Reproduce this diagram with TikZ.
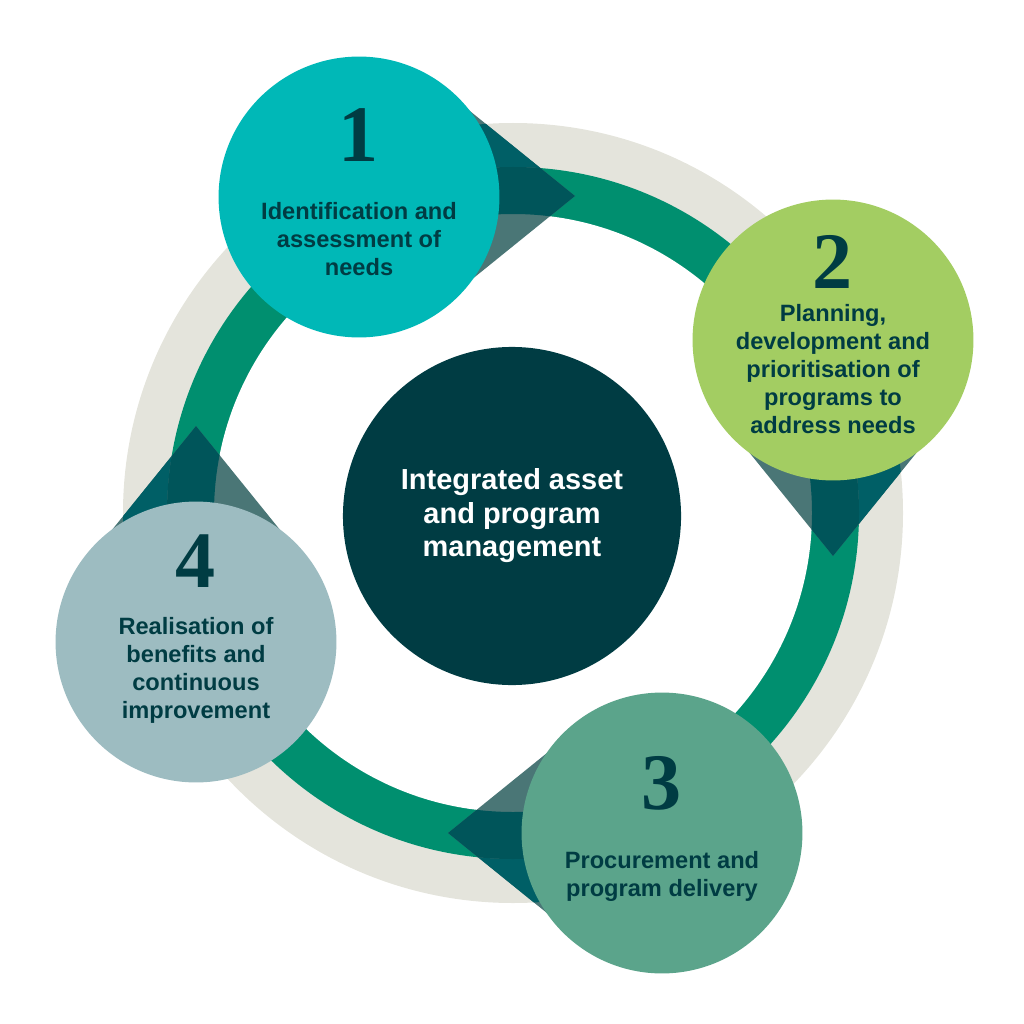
\documentclass[tikz,border=0pt]{standalone}
\usepackage{fontspec}
\setmainfont{Liberation Sans}
\newfontfamily\numfont{Liberation Serif}
\usepackage{tikz}
\usetikzlibrary{calc}

\definecolor{darkteal}{HTML}{003C43}
\definecolor{ringgreen}{HTML}{008F6F}
\definecolor{ringgray}{HTML}{E4E4DC}
\definecolor{stageone}{HTML}{00B8B7}
\definecolor{stagetwo}{HTML}{A3CD62}
\definecolor{stagethree}{HTML}{5BA48B}
\definecolor{stagefour}{HTML}{9DBCC1}
\definecolor{tipwhite}{HTML}{4A7676}
\definecolor{tipgray}{HTML}{005F66}
\definecolor{tipgreen}{HTML}{00555A}

\tikzstyle{Stage} = [circle, minimum size=7.02cm, inner sep=0pt]
\tikzstyle{Hub} = [circle, fill=darkteal, minimum size=8.45cm, inner sep=0pt,
align=center, text=white, font=\bfseries\fontsize{20.6}{23.8}\selectfont]
\tikzstyle{Number} = [inner sep=0pt, text=darkteal,
font=\numfont\bfseries\fontsize{57}{57}\selectfont]
\tikzstyle{Label} = [inner sep=0pt, align=center, text=darkteal,
font=\bfseries\fontsize{16.8}{19.9}\selectfont]

\begin{document}
\begin{tikzpicture}[x=0.025cm, y=-0.025cm]
    \useasboundingbox (0,0) rectangle (1024,1024);
    \coordinate (O) at (513,513);

    % ring
    \fill[ringgray] (O) circle (390);
    \fill[ringgreen] (O) circle (346);
    \fill[white] (O) circle (299);

    % arrow tips on the ring
    \foreach \x/\y/\a in {575/196/0, 833/556/-90, 448/833/180, 196/426/90} {
        \begin{scope}
            \clip[shift={(\x,\y)}, rotate=\a] (0,0) -- (-115,-93) -- (-115,93) -- cycle;
            \fill[tipwhite] (0,0) rectangle (1024,1024);
            \fill[tipgray, even odd rule] (O) circle (390) (O) circle (346);
            \fill[tipgreen, even odd rule] (O) circle (346) (O) circle (299);
        \end{scope}
    }

    \node[Hub] (0) at (512,516) {Integrated asset\\and program\\management};
    \node[Stage, fill=stageone] (1) at (359,197) {};
    \node[Stage, fill=stagetwo] (2) at (833,340) {};
    \node[Stage, fill=stagethree] (3) at (662,833) {};
    \node[Stage, fill=stagefour] (4) at (196,642) {};

    \node[Number] (n1) at ($(1)+(0,-62)$) {1};
    \node[Number] (n2) at ($(2)+(0,-78.5)$) {2};
    \node[Number] (n3) at ($(3)+(0,-50)$) {3};
    \node[Number] (n4) at ($(4)+(0,-80.5)$) {4};

    \node[Label] (l1) at ($(1)+(0,42)$) {Identification and\\assessment of\\needs};
    \node[Label] (l2) at ($(2)+(0,29.5)$) {Planning,\\development and\\prioritisation of\\programs to\\address needs};
    \node[Label] (l3) at ($(3)+(0,43)$) {Procurement and\\program delivery};
    \node[Label] (l4) at ($(4)+(0,28.5)$) {Realisation of\\benefits and\\continuous\\improvement};
\end{tikzpicture}
\end{document}
